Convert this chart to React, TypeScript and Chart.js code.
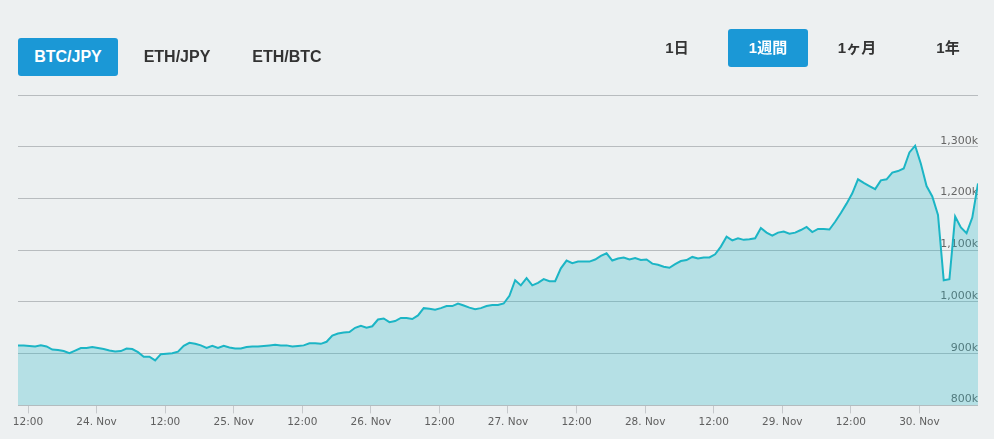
import React, { useEffect, useRef } from "react";
import { Chart, registerables } from "chart.js";

Chart.register(...registerables);

// BTC/JPY hourly price, in thousands of JPY
const btcJpyK: number[] = [
  916, 916, 915, 914, 916, 914, 908, 907, 905, 901,
  906, 911, 911, 913, 911, 909, 906, 904, 905, 910,
  909, 903, 894, 894, 887, 899, 900, 901, 904, 915,
  921, 919, 916, 911, 915, 911, 915, 912, 910, 910,
  913, 914, 914, 915, 916, 917, 916, 916, 914, 915,
  916, 920, 920, 919, 923, 935, 939, 941, 942, 950,
  954, 950, 953, 966, 968, 961, 963, 969, 969, 967,
  974, 988, 987, 985, 988, 992, 992, 997, 993, 989,
  986, 988, 992, 994, 994, 997, 1012, 1042, 1032, 1046,
  1032, 1037, 1044, 1040, 1040, 1065, 1080, 1075, 1078, 1078,
  1078, 1082, 1089, 1094, 1080, 1084, 1086, 1082, 1085, 1081,
  1082, 1074, 1072, 1068, 1066, 1073, 1079, 1081, 1087, 1084,
  1086, 1086, 1092, 1107, 1126, 1119, 1123, 1120, 1121, 1123,
  1143, 1134, 1128, 1134, 1136, 1132, 1134, 1139, 1145, 1135,
  1141, 1141, 1140, 1155, 1172, 1190, 1210, 1237, 1230, 1224,
  1218, 1235, 1237, 1250, 1253, 1258, 1289, 1302, 1267, 1224,
  1204, 1168, 1042, 1044, 1165, 1144, 1133, 1163, 1229,
];

// hours since 23 Nov 00:00 of the first sample
const startHour = 10.25;
const firstDay = 23;
const monthLabel = "Nov";
// x tick positions, hours since 23 Nov 00:00 (12:00 23 Nov ... 30 Nov 00:00)
const xTickHours = [12, 24, 36, 48, 60, 72, 84, 96, 108, 120, 132, 144, 156, 168];

const pairButtons = ["BTC/JPY", "ETH/JPY", "ETH/BTC"];
const rangeButtons = ["1日", "1週間", "1ヶ月", "1年"];

const yMin = 800;
const yMax = 1400;
const yStep = 100;

const BLUE = "#1b98d6";
const LINE = "#1cb5c5";

export default function App() {
  const canvasRef = useRef<HTMLCanvasElement | null>(null);

  useEffect(() => {
    const canvas = canvasRef.current;
    if (!canvas) return;
    const points = btcJpyK.map((v, i) => ({ x: startHour + i, y: v }));
    const chart = new Chart(canvas, {
      type: "line",
      data: {
        datasets: [
          {
            data: points,
            borderColor: LINE,
            borderWidth: 2,
            backgroundColor: "rgba(28,181,197,0.27)",
            fill: "start",
            pointRadius: 0,
            tension: 0,
          },
        ],
      },
      options: {
        animation: false,
        responsive: false,
        layout: { padding: { left: 18, right: 16, top: 95, bottom: 7 } },
        plugins: { legend: { display: false }, tooltip: { enabled: false } },
        scales: {
          x: {
            type: "linear",
            min: startHour,
            max: startHour + btcJpyK.length - 1,
            border: { display: false },
            afterBuildTicks: (axis: any) => {
              axis.ticks = xTickHours.map((v) => ({ value: v }));
            },
            grid: {
              drawOnChartArea: false,
              drawTicks: true,
              tickLength: 8,
              color: "#c6c9cc",
            },
            ticks: {
              autoSkip: false,
              maxRotation: 0,
              padding: 3,
              color: "#606060",
              font: { family: "DejaVu Sans", size: 10.5 },
              callback: (v: any) => {
                const h = Number(v);
                if (h % 24 === 12) return "12:00";
                return `${firstDay + Math.round(h / 24)}. ${monthLabel}`;
              },
            },
          },
          y: {
            position: "right",
            min: yMin,
            max: yMax,
            border: { display: false },
            grid: { drawTicks: false, color: "#b8bcbf" },
            ticks: {
              stepSize: yStep,
              mirror: true,
              padding: 0,
              labelOffset: -6,
              color: "#666666",
              font: { family: "DejaVu Sans", size: 11 },
              callback: (v: any) => {
                const n = Number(v);
                if (n >= yMax) return "";
                return n.toLocaleString("en-US") + "k";
              },
            },
          },
        },
      },
    });
    return () => chart.destroy();
  }, []);

  const btnFont = '"Liberation Sans", Arial, "Noto Sans CJK JP", sans-serif';

  const pairCenters = [68, 177, 287];
  const rangeCenters = [677, 768, 857, 948];

  return (
    <div
      style={{
        position: "fixed",
        left: 0,
        top: 0,
        width: 994,
        height: 439,
        background: "#edf0f1",
        overflow: "hidden",
      }}
    >
      <canvas
        ref={canvasRef}
        width={994}
        height={439}
        style={{ position: "absolute", left: 0, top: 0, width: 994, height: 439 }}
      />
      {pairButtons.map((t, i) => {
        const active = i === 0;
        return (
          <div
            key={t}
            style={{
              position: "absolute",
              left: pairCenters[i] - 50,
              top: 38,
              width: 100,
              height: 38,
              lineHeight: "38px",
              textAlign: "center",
              borderRadius: 3,
              background: active ? BLUE : "transparent",
              color: active ? "#ffffff" : "#333333",
              fontFamily: btnFont,
              fontWeight: "bold",
              fontSize: 16,
            }}
          >
            {t}
          </div>
        );
      })}
      {rangeButtons.map((t, i) => {
        const active = i === 1;
        return (
          <div
            key={t}
            style={{
              position: "absolute",
              left: rangeCenters[i] - 40,
              top: 29,
              width: 80,
              height: 38,
              lineHeight: "38px",
              textAlign: "center",
              borderRadius: 3,
              background: active ? BLUE : "transparent",
              color: active ? "#ffffff" : "#333333",
              fontFamily: btnFont,
              fontWeight: "bold",
              fontSize: 15,
            }}
          >
            {t}
          </div>
        );
      })}
    </div>
  );
}
